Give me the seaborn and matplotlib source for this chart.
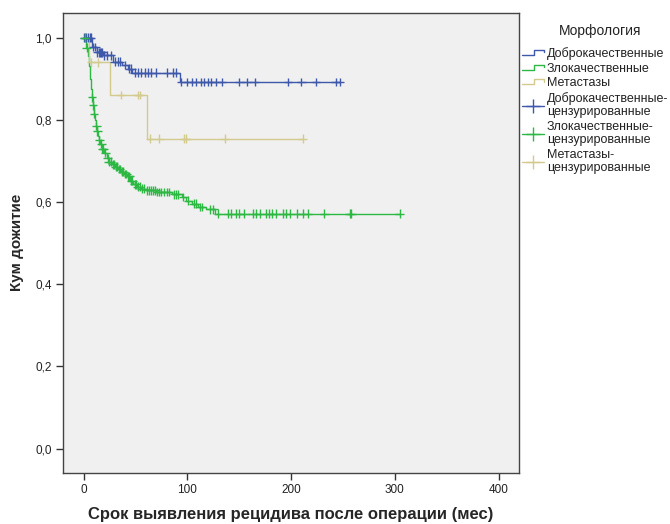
import numpy as np
import pandas as pd
import matplotlib
matplotlib.use("Agg")
import matplotlib.pyplot as plt
from matplotlib.legend_handler import HandlerBase
from matplotlib.lines import Line2D
from matplotlib.ticker import FuncFormatter
import seaborn as sns

# ---- data ----
groups = ["Доброкачественные", "Злокачественные", "Метастазы"]

benign_t = [0, 8, 13, 19, 28, 37, 43, 47, 93]
benign_s = [1.0, 0.977, 0.964, 0.957, 0.941, 0.933, 0.924, 0.914, 0.892]
benign_cens = [0.5, 2, 4, 6, 7, 9, 11, 13, 15, 16, 17, 18, 20, 22, 26, 30, 33, 35,
               40, 44, 46, 49, 52, 55, 59, 62, 65, 70, 80, 86, 89, 94, 100, 104, 108,
               113, 116, 120, 123, 128, 133, 150, 157, 165, 197, 210, 224, 243, 247]

malig_t = [0, 2, 4, 5, 6, 7, 8, 9, 10, 11, 12, 13, 14, 15, 16, 18, 20, 22, 24, 27,
           30, 33, 36, 39, 42, 45, 48, 51, 55, 60, 70, 85, 95, 99, 104, 110, 118, 127]
malig_s = [1.0, 0.975, 0.955, 0.93, 0.90, 0.875, 0.855, 0.835, 0.815, 0.80, 0.785,
           0.772, 0.76, 0.75, 0.742, 0.73, 0.72, 0.706, 0.698, 0.692, 0.686, 0.68,
           0.674, 0.668, 0.662, 0.652, 0.643, 0.637, 0.632, 0.628, 0.624, 0.619,
           0.612, 0.603, 0.596, 0.588, 0.582, 0.571]
malig_cens = [1, 3, 8, 9, 10, 12, 13, 15, 17, 18, 19, 21, 23, 24, 26, 28, 29, 31, 32,
              34, 35, 37, 38, 40, 41, 43, 44, 46, 47, 49, 50, 52, 54, 56, 58, 61, 63,
              65, 67, 69, 71, 73, 75, 77, 80, 82, 87, 89, 91, 96, 101, 106, 108, 112,
              114, 122, 125, 129.5, 139, 142, 147, 150, 155, 163, 166.5, 169.6, 176,
              179, 182, 185.7, 192, 195, 198.5, 206, 211, 216, 232, 256.5, 258, 304.6]

meta_t = [0, 5, 25, 61]
meta_s = [1.0, 0.94, 0.86, 0.754]
meta_cens = [7, 13.5, 36, 52, 54, 64, 73, 97, 99, 136, 211]

colors = ["#3E58AC", "#2DB843", "#D3CB8E"]
legend_title = "Морфология"
cens_labels = ["Доброкачественные-\nцензурированные",
               "Злокачественные-\nцензурированные",
               "Метастазы-\nцензурированные"]

# ---- build tables ----
curves, cens = [], []
for g, t, s, c in zip(groups, [benign_t, malig_t, meta_t],
                      [benign_s, malig_s, meta_s],
                      [benign_cens, malig_cens, meta_cens]):
    t = np.asarray(t, float); s = np.asarray(s, float); c = np.asarray(c, float)
    tt = np.append(t, max(c.max(), t.max()))
    ss = np.append(s, s[-1])
    curves.append(pd.DataFrame({"time": tt, "surv": ss, "group": g}))
    idx = np.searchsorted(t, c, side="right") - 1
    cens.append(pd.DataFrame({"time": c, "surv": s[idx], "group": g}))
curves = pd.concat(curves, ignore_index=True)
cens = pd.concat(cens, ignore_index=True)

sns.set_theme(style="white")
plt.rcParams["font.family"] = ["Liberation Sans", "DejaVu Sans"]

fig = plt.figure(figsize=(6.7, 5.24), dpi=100)
ax = fig.add_axes([0.094, 0.0975, 0.681, 0.878])
ax.set_facecolor("#F0F0F0")

pal = dict(zip(groups, colors))
sns.lineplot(data=curves, x="time", y="surv", hue="group", palette=pal,
             drawstyle="steps-post", estimator=None, sort=True, linewidth=1.0,
             legend=False, ax=ax)
sns.scatterplot(data=cens, x="time", y="surv", hue="group", palette=pal,
                marker="+", s=40, linewidth=1.0, legend=False, ax=ax, zorder=3)

ax.set_xlim(-20, 420)
ax.set_ylim(-0.059, 1.06)
ax.set_xticks([0, 100, 200, 300, 400])
ax.set_yticks([0.0, 0.2, 0.4, 0.6, 0.8, 1.0])
ax.yaxis.set_major_formatter(FuncFormatter(lambda v, p: f"{v:.1f}".replace(".", ",")))
ax.tick_params(axis="both", which="major", direction="out", length=5, width=1,
               color="#333333", labelsize=8.5, labelcolor="#222222", pad=3,
               bottom=True, left=True)
for sp in ax.spines.values():
    sp.set_color("#444444")
    sp.set_linewidth(1.0)
ax.set_xlabel("Срок выявления рецидива после операции (мес)", fontsize=12,
              fontweight="bold", labelpad=8)
ax.set_ylabel("Кум дожитие", fontsize=11, fontweight="bold", labelpad=8)


class StepHandler(HandlerBase):
    def create_artists(self, legend, orig_handle, xdescent, ydescent, width,
                       height, fontsize, trans):
        x0 = -xdescent
        y0 = -ydescent
        xs = [x0, x0 + width * 0.55, x0 + width * 0.55, x0 + width, x0 + width]
        ys = [y0 + height * 0.25, y0 + height * 0.25, y0 + height * 0.8,
              y0 + height * 0.8, y0 + height * 0.55]
        ln = Line2D(xs, ys, color=orig_handle.get_color(), lw=1.0, transform=trans)
        return [ln]


class CensHandler(HandlerBase):
    def create_artists(self, legend, orig_handle, xdescent, ydescent, width,
                       height, fontsize, trans):
        x0 = -xdescent
        y0 = -ydescent
        ym = y0 + height * 0.4
        ln = Line2D([x0, x0 + width], [ym, ym], color=orig_handle.get_color(),
                    lw=1.0, transform=trans)
        mk = Line2D([x0 + width / 2], [ym], marker="+", markersize=10,
                    color=orig_handle.get_color(), lw=0, transform=trans)
        return [ln, mk]


class StepH(Line2D):
    pass


class CensH(Line2D):
    pass


handles = [StepH([], [], color=c) for c in colors] + [CensH([], [], color=c) for c in colors]
labels = groups + cens_labels
leg = fig.legend(handles, labels, loc="upper left",
                 bbox_to_anchor=(522 / 670, 1 - 47 / 524), frameon=False,
                 fontsize=9, handlelength=1.75, handletextpad=0.25,
                 labelspacing=0.22, borderaxespad=0, borderpad=0,
                 handler_map={StepH: StepHandler(), CensH: CensHandler()})
for t in leg.get_texts():
    t.set_color("#222222")
    t.set_linespacing(1.12)
fig.text(600 / 670, 1 - 31.5 / 524, legend_title, fontsize=10, color="#222222",
         ha="center", va="center")

fig.savefig("out.png", dpi=100, facecolor="white")
